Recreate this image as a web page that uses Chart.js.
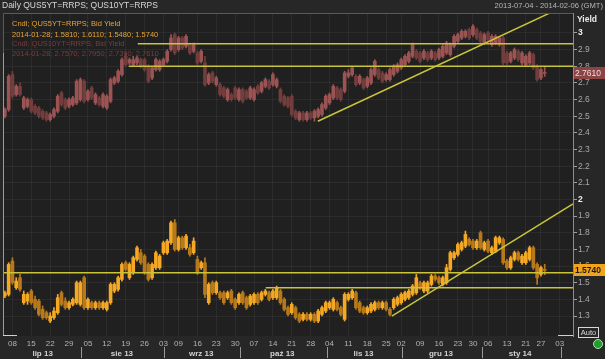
<!DOCTYPE html>
<html>
<head>
<meta charset="utf-8">
<style>
  html, body { margin: 0; padding: 0; background: #272727; }
  #wrap { width: 605px; height: 359px; }
</style>
<script src="https://cdn.jsdelivr.net/npm/chart.js@4.4.0/dist/chart.umd.min.js"></script>
</head>
<body>
<div id="wrap"><canvas id="chart" width="605" height="359"></canvas></div>
<script>
// Trading-day slots run from 2013-07-04 (slot 0) to 2014-02-06 (slot 150)
const weekTickIdx = [2, 7, 12, 17, 22, 27, 32, 37, 42, 46, 51, 56, 61, 66, 71, 76, 81, 86, 91, 96, 101, 105, 110, 115, 120, 124, 128, 133, 138, 142, 147];
const weekTickLabels = ['08', '15', '22', '29', '05', '12', '19', '26', '03', '09', '16', '23', '30', '07', '14', '21', '28', '04', '11', '18', '25', '02', '09', '16', '23', '30', '06', '13', '21', '27', '03'];
const monthStartIdx = [0, 20, 42, 62, 85, 105, 126, 147];
const monthLabels = ['lip 13', 'sie 13', 'wrz 13', 'paź 13', 'lis 13', 'gru 13', 'sty 14'];
const lastDate = '2014-01-28';

// QUS5YT=RRPS daily candles (bid yield)
const fiveOpen = [1.42,1.43,1.63,1.47,1.53,1.38,1.39,1.45,1.40,1.39, 1.34,1.32,1.27,1.29,1.32,1.44,1.39,1.35,1.37,1.38,
  1.37,1.53,1.35,1.38,1.35,1.38,1.35,1.34,1.38,1.45, 1.46,1.52,1.62,1.53,1.56,1.64,1.68,1.66,1.61,1.53,
  1.59,1.59,1.68,1.68,1.74,1.86,1.70,1.77,1.71,1.71, 1.68,1.64,1.59,1.62,1.38,1.50,1.44,1.44,1.44,1.41,
  1.45,1.40,1.38,1.44,1.41,1.37,1.38,1.43,1.40,1.43, 1.44,1.41,1.41,1.45,1.40,1.35,1.32,1.35,1.31,1.28,
  1.31,1.28,1.31,1.27,1.31,1.33,1.35,1.34,1.38,1.35, 1.28,1.40,1.41,1.44,1.38,1.35,1.32,1.33,1.34,1.38,
  1.35,1.38,1.34,1.35,1.37,1.38,1.40,1.41,1.43,1.44, 1.50,1.45,1.45,1.49,1.54,1.53,1.49,1.50,1.58,1.65,
  1.67,1.70,1.72,1.76,1.75,1.71,1.80,1.70,1.75,1.68, 1.69,1.74,1.76,1.63,1.59,1.64,1.68,1.62,1.62,1.64,
  1.71,1.61,1.55,1.581];
const fiveHigh = [1.45,1.62,1.65,1.53,1.55,1.45,1.44,1.46,1.42,1.40, 1.36,1.33,1.32,1.35,1.43,1.45,1.41,1.39,1.41,1.51,
  1.51,1.54,1.41,1.39,1.39,1.39,1.39,1.39,1.50,1.50, 1.54,1.62,1.63,1.62,1.66,1.72,1.70,1.67,1.62,1.62,
  1.69,1.67,1.75,1.76,1.87,1.88,1.78,1.78,1.79,1.73, 1.77,1.66,1.63,1.65,1.50,1.51,1.51,1.45,1.45,1.45,
  1.46,1.41,1.44,1.45,1.42,1.43,1.44,1.44,1.45,1.46, 1.45,1.46,1.48,1.46,1.41,1.36,1.38,1.36,1.32,1.32,
  1.32,1.32,1.32,1.34,1.36,1.39,1.39,1.41,1.39,1.36, 1.44,1.44,1.46,1.45,1.39,1.36,1.36,1.38,1.39,1.39,
  1.39,1.39,1.35,1.41,1.42,1.44,1.45,1.46,1.49,1.55, 1.51,1.51,1.51,1.55,1.55,1.54,1.54,1.61,1.69,1.69,
  1.74,1.75,1.81,1.77,1.76,1.76,1.81,1.75,1.76,1.72, 1.78,1.78,1.77,1.64,1.66,1.69,1.69,1.67,1.69,1.72,
  1.72,1.62,1.60,1.611];
const fiveLow = [1.41,1.42,1.49,1.46,1.45,1.37,1.37,1.37,1.34,1.30, 1.28,1.28,1.26,1.28,1.31,1.36,1.34,1.34,1.36,1.37,
  1.36,1.34,1.34,1.34,1.34,1.34,1.34,1.33,1.37,1.44, 1.45,1.51,1.57,1.52,1.55,1.63,1.61,1.55,1.51,1.52,
  1.58,1.58,1.67,1.67,1.73,1.69,1.69,1.70,1.70,1.66, 1.67,1.55,1.58,1.41,1.37,1.43,1.43,1.40,1.37,1.40,
  1.37,1.34,1.37,1.37,1.34,1.36,1.37,1.37,1.39,1.42, 1.39,1.40,1.40,1.37,1.33,1.30,1.31,1.28,1.26,1.27,
  1.27,1.27,1.26,1.26,1.30,1.32,1.34,1.33,1.33,1.30, 1.27,1.39,1.40,1.34,1.32,1.31,1.31,1.32,1.33,1.34,
  1.34,1.33,1.30,1.34,1.36,1.37,1.39,1.40,1.42,1.43, 1.46,1.44,1.44,1.48,1.51,1.49,1.48,1.49,1.57,1.64,
  1.66,1.69,1.71,1.72,1.70,1.70,1.70,1.69,1.68,1.67, 1.68,1.73,1.61,1.58,1.58,1.63,1.63,1.61,1.61,1.63,
  1.58,1.49,1.54,1.548];
const fiveClose = [1.44,1.61,1.50,1.51,1.46,1.43,1.43,1.38,1.35,1.31, 1.29,1.29,1.30,1.33,1.41,1.37,1.35,1.38,1.40,1.50,
  1.50,1.35,1.40,1.35,1.38,1.35,1.38,1.38,1.49,1.49, 1.53,1.61,1.58,1.61,1.65,1.71,1.62,1.56,1.52,1.61,
  1.68,1.66,1.74,1.75,1.86,1.70,1.77,1.71,1.78,1.67, 1.75,1.56,1.62,1.43,1.49,1.44,1.50,1.41,1.38,1.44,
  1.38,1.35,1.43,1.38,1.35,1.42,1.43,1.38,1.44,1.45, 1.40,1.45,1.47,1.38,1.34,1.31,1.37,1.29,1.27,1.31,
  1.28,1.31,1.27,1.33,1.35,1.38,1.38,1.40,1.34,1.31, 1.43,1.43,1.45,1.35,1.33,1.32,1.35,1.37,1.38,1.35,
  1.38,1.34,1.31,1.40,1.41,1.43,1.44,1.45,1.48,1.53, 1.47,1.50,1.50,1.54,1.52,1.50,1.53,1.59,1.68,1.68,
  1.73,1.74,1.79,1.73,1.71,1.75,1.71,1.74,1.69,1.71, 1.77,1.77,1.62,1.59,1.65,1.68,1.64,1.66,1.68,1.71,
  1.59,1.53,1.59,1.574];

// QUS10YT=RRPS daily candles (bid yield)
const tenOpen = [2.50,2.54,2.75,2.63,2.68,2.55,2.56,2.60,2.56,2.55, 2.53,2.52,2.48,2.50,2.53,2.64,2.60,2.56,2.57,2.58,
  2.60,2.71,2.60,2.67,2.58,2.61,2.56,2.55,2.59,2.70, 2.71,2.75,2.86,2.82,2.81,2.82,2.84,2.84,2.80,2.73,
  2.78,2.78,2.81,2.83,2.90,2.99,2.90,2.97,2.92,2.93, 2.89,2.88,2.83,2.82,2.70,2.76,2.69,2.69,2.67,2.60,
  2.63,2.67,2.60,2.66,2.65,2.61,2.60,2.68,2.65,2.68, 2.71,2.69,2.68,2.66,2.62,2.61,2.62,2.53,2.48,2.52,
  2.48,2.52,2.49,2.50,2.51,2.55,2.58,2.61,2.67,2.66, 2.65,2.74,2.75,2.74,2.70,2.72,2.68,2.70,2.75,2.78,
  2.76,2.72,2.72,2.75,2.77,2.79,2.81,2.83,2.86,2.89, 2.88,2.85,2.88,2.85,2.88,2.85,2.86,2.88,2.87,2.92,
  2.95,2.97,2.98,3.02,2.99,3.02,3.00,2.94,3.00,2.93, 2.94,2.93,2.97,2.88,2.83,2.85,2.89,2.82,2.81,2.82,
  2.87,2.80,2.73,2.757];
const tenHigh = [2.55,2.75,2.77,2.69,2.70,2.62,2.61,2.61,2.57,2.56, 2.54,2.53,2.52,2.55,2.63,2.65,2.61,2.61,2.62,2.72,
  2.73,2.72,2.66,2.68,2.64,2.62,2.64,2.63,2.73,2.74, 2.78,2.85,2.88,2.85,2.86,2.86,2.85,2.85,2.81,2.80,
  2.85,2.84,2.85,2.90,2.99,3.00,2.98,2.98,2.99,2.94, 2.94,2.89,2.90,2.86,2.76,2.77,2.74,2.70,2.68,2.67,
  2.64,2.68,2.67,2.67,2.66,2.68,2.67,2.69,2.71,2.73, 2.72,2.76,2.73,2.67,2.63,2.62,2.63,2.54,2.53,2.53,
  2.53,2.53,2.54,2.55,2.58,2.63,2.64,2.69,2.68,2.67, 2.77,2.78,2.80,2.75,2.75,2.73,2.74,2.79,2.84,2.79,
  2.77,2.76,2.79,2.81,2.82,2.85,2.87,2.89,2.94,2.90, 2.89,2.90,2.89,2.90,2.89,2.91,2.93,2.95,2.94,2.99,
  3.00,3.02,3.02,3.03,3.05,3.03,3.01,3.00,3.01,2.99, 2.99,2.98,2.98,2.89,2.89,2.91,2.90,2.89,2.87,2.89,
  2.88,2.81,2.79,2.795];
const tenLow = [2.49,2.53,2.61,2.62,2.62,2.54,2.55,2.52,2.51,2.49, 2.48,2.47,2.47,2.49,2.52,2.56,2.54,2.55,2.56,2.57,
  2.59,2.58,2.59,2.60,2.57,2.56,2.55,2.54,2.58,2.69, 2.70,2.74,2.80,2.81,2.80,2.81,2.79,2.77,2.70,2.72,
  2.77,2.77,2.80,2.82,2.89,2.87,2.89,2.90,2.91,2.87, 2.88,2.81,2.82,2.68,2.69,2.70,2.68,2.62,2.61,2.59,
  2.59,2.60,2.59,2.58,2.60,2.60,2.59,2.63,2.64,2.67, 2.66,2.68,2.67,2.58,2.56,2.55,2.50,2.48,2.47,2.47,
  2.47,2.48,2.47,2.49,2.50,2.54,2.57,2.60,2.60,2.59, 2.64,2.73,2.74,2.68,2.69,2.66,2.67,2.69,2.74,2.72,
  2.70,2.71,2.71,2.74,2.76,2.78,2.80,2.82,2.85,2.84, 2.82,2.84,2.83,2.84,2.83,2.84,2.85,2.87,2.86,2.91,
  2.94,2.96,2.97,2.96,2.98,2.96,2.94,2.93,2.95,2.92, 2.93,2.92,2.81,2.81,2.82,2.84,2.83,2.81,2.80,2.81,
  2.78,2.71,2.72,2.739];
const tenClose = [2.54,2.74,2.62,2.68,2.63,2.61,2.60,2.53,2.52,2.50, 2.49,2.48,2.51,2.54,2.62,2.57,2.55,2.60,2.61,2.71,
  2.72,2.59,2.65,2.61,2.63,2.57,2.63,2.62,2.72,2.73, 2.77,2.84,2.81,2.84,2.84,2.85,2.80,2.78,2.71,2.79,
  2.84,2.83,2.84,2.89,2.97,2.88,2.97,2.91,2.98,2.88, 2.93,2.82,2.89,2.69,2.75,2.71,2.73,2.63,2.62,2.66,
  2.60,2.61,2.66,2.59,2.61,2.67,2.66,2.64,2.70,2.72, 2.67,2.75,2.72,2.59,2.57,2.56,2.51,2.49,2.52,2.48,
  2.52,2.49,2.53,2.54,2.57,2.62,2.63,2.68,2.61,2.60, 2.76,2.76,2.79,2.69,2.74,2.67,2.73,2.78,2.83,2.73,
  2.71,2.75,2.78,2.80,2.81,2.84,2.86,2.88,2.93,2.85, 2.83,2.89,2.84,2.89,2.84,2.90,2.92,2.94,2.93,2.98,
  2.99,3.01,3.01,2.97,3.04,2.97,2.95,2.99,2.96,2.98, 2.98,2.97,2.82,2.82,2.88,2.90,2.84,2.88,2.86,2.88,
  2.79,2.72,2.78,2.761];

// Drawn trend lines: [slot, yield] end points
const trendLines = [
  [[35.2, 2.935], [150.5, 2.935]],
  [[32.8, 2.80], [150.5, 2.80]],
  [[82.9, 2.47], [150.5, 3.185]],
  [[-0.5, 1.56], [150.5, 1.56]],
  [[69.1, 1.47], [150.5, 1.47]],
  [[102.5, 1.30], [150.5, 1.974]]
];

const FONT = "'Liberation Sans', Arial, sans-serif";
Chart.defaults.font.family = FONT;

function isWhole(ctx) {
  if (!ctx || !ctx.tick) return false;
  return Math.abs(ctx.tick.value - Math.round(ctx.tick.value)) < 0.001;
}

function candleSets(open, high, low, close, upColor, downColor, label) {
  const pick = (ctx) => {
    const i = ctx && ctx.dataIndex;
    if (i === undefined) return upColor;
    return close[i] >= open[i] ? upColor : downColor;
  };
  return [
    {
      type: 'bar', label: label + ' wick', order: 3, grouped: false,
      data: open.map((o, i) => ({ x: i, y: [low[i], high[i]] })),
      backgroundColor: pick, barThickness: 1
    },
    {
      type: 'bar', label: label, order: 2, grouped: false,
      data: open.map((o, i) => ({ x: i, y: [o, close[i]] })),
      backgroundColor: pick, barThickness: 3, minBarLength: 1
    }
  ];
}

const lineSets = trendLines.map((seg, k) => ({
  type: 'line', label: 'trend ' + k, order: 0,
  data: seg.map(p => ({ x: p[0], y: p[1] })),
  borderColor: '#c9c43a', borderWidth: 1.5, pointRadius: 0, fill: false
}));

const last = fiveClose.length - 1;
const fmt4 = (a) => a[last].toFixed(4);

// Text, frame, price tags drawn on top of the chart
const overlay = {
  id: 'overlay',
  beforeDraw(chart) {
    const c = chart.ctx, a = chart.chartArea;
    c.save();
    c.fillStyle = '#272727';
    c.fillRect(0, 0, chart.width, chart.height);
    c.fillStyle = '#202020';
    c.fillRect(a.left, a.top, a.right - a.left, a.bottom - a.top);
    c.restore();
  },
  afterDraw(chart) {
    const c = chart.ctx, a = chart.chartArea;
    const y = chart.scales.y, xm = chart.scales.xm;
    c.save();
    // frame
    c.strokeStyle = '#5a5a5a';
    c.lineWidth = 1;
    c.beginPath();
    c.moveTo(a.left + 0.5, a.bottom);
    c.lineTo(a.left + 0.5, a.top + 0.5);
    c.lineTo(a.right, a.top + 0.5);
    c.stroke();
    c.strokeStyle = '#9a9a9a';
    c.beginPath();
    c.moveTo(a.left + 0.5, a.top + 40);
    c.lineTo(a.left + 0.5, a.bottom);
    c.stroke();
    c.strokeStyle = '#d0d0d0';
    c.beginPath();
    c.moveTo(a.left, a.bottom - 0.5);
    c.lineTo(a.left + 14, a.bottom - 0.5);
    c.moveTo(a.right - 15, a.bottom - 0.5);
    c.lineTo(a.right, a.bottom - 0.5);
    c.stroke();

    // header
    c.textBaseline = 'middle';
    c.font = '8.5px ' + FONT;
    c.fillStyle = '#d6d6d6';
    c.textAlign = 'left';
    c.fillText('Daily QUS5YT=RRPS; QUS10YT=RRPS', 2, 6);
    c.font = '7.6px ' + FONT;
    c.fillStyle = '#b8b8b8';
    c.textAlign = 'right';
    c.fillText('2013-07-04 - 2014-02-06 (GMT)', 603, 6);

    // legend
    c.textAlign = 'left';
    c.font = '7.5px ' + FONT;
    c.fillStyle = '#e8a232';
    c.fillText('Cndl; QUS5YT=RRPS; Bid Yield', 12, 24);
    c.fillText(lastDate + '; ' + [fiveOpen, fiveHigh, fiveLow, fiveClose].map(fmt4).join('; '), 12, 34.5);
    c.fillStyle = '#7c3c3c';
    c.fillText('Cndl; QUS10YT=RRPS; Bid Yield', 12, 44);
    c.fillText(lastDate + '; ' + [tenOpen, tenHigh, tenLow, tenClose].map(fmt4).join('; '), 12, 53.5);

    // axis title
    c.font = 'bold 8.5px ' + FONT;
    c.fillStyle = '#ececec';
    c.fillText('Yield', 577, 20);

    // last value tags
    const tag = (val, bg, fg, bold) => {
      const py = Math.round(y.getPixelForValue(val));
      c.fillStyle = bg;
      c.fillRect(a.right + 1, py - 6, chart.width - a.right - 1, 12);
      c.fillStyle = fg;
      c.font = (bold ? 'bold ' : '') + '8.5px ' + FONT;
      c.fillText(val.toFixed(4), a.right + 2, py + 0.5);
    };
    tag(tenClose[last], '#8a4444', '#f3dada', false);
    tag(fiveClose[last], '#f2a31c', '#1a1a1a', true);

    // month separators
    c.strokeStyle = '#9a9a9a';
    monthStartIdx.slice(1).forEach(v => {
      const px = Math.round(xm.getPixelForValue(v)) + 1.5;
      c.beginPath();
      c.moveTo(px, 347);
      c.lineTo(px, 358);
      c.stroke();
    });

    // Auto box and status light
    c.strokeStyle = '#d8d8d8';
    c.strokeRect(578.5, 327.5, 20, 10);
    c.fillStyle = '#d8d8d8';
    c.font = '7.5px ' + FONT;
    c.textAlign = 'center';
    c.fillText('Auto', 588.5, 333);
    c.beginPath();
    c.arc(598, 344, 4.5, 0, Math.PI * 2);
    c.fillStyle = '#1f9e2a';
    c.fill();
    c.strokeStyle = '#b9d9b9';
    c.stroke();
    c.restore();
  }
};

const monthCenters = monthLabels.map((m, i) => (monthStartIdx[i] + monthStartIdx[i + 1]) / 2);

new Chart(document.getElementById('chart'), {
  type: 'bar',
  data: {
    datasets: [
      ...lineSets,
      ...candleSets(tenOpen, tenHigh, tenLow, tenClose, '#9c5353', '#723d3d', 'QUS10YT'),
      ...candleSets(fiveOpen, fiveHigh, fiveLow, fiveClose, '#f5a823', '#b8791a', 'QUS5YT')
    ]
  },
  options: {
    responsive: false,
    devicePixelRatio: 1,
    animation: false,
    layout: { padding: { left: 3, top: 13, right: 0, bottom: 0 } },
    plugins: { legend: { display: false }, tooltip: { enabled: false } },
    scales: {
      x: {
        type: 'linear', min: -0.5, max: 150.5, offset: false, position: 'bottom', weight: 0,
        afterBuildTicks: (axis) => { axis.ticks = weekTickIdx.map(v => ({ value: v })); },
        afterFit: (axis) => { axis.height = 12; },
        ticks: {
          autoSkip: false, maxRotation: 0, padding: 3, color: '#b2b2b2',
          font: { size: 8 },
          callback: (v, i) => weekTickLabels[i]
        },
        grid: { color: 'rgba(255,255,255,0.05)', drawTicks: false, offset: false },
        border: { display: false }
      },
      xm: {
        type: 'linear', min: -0.5, max: 150.5, offset: false, position: 'bottom', weight: 1,
        afterBuildTicks: (axis) => { axis.ticks = monthCenters.map(v => ({ value: v })); },
        afterFit: (axis) => { axis.height = 11; },
        ticks: {
          autoSkip: false, maxRotation: 0, padding: 1, color: '#d2d2d2',
          font: { size: 8, weight: 'bold' },
          callback: (v, i) => monthLabels[i]
        },
        grid: { display: false, drawTicks: false },
        border: { display: false }
      },
      y: {
        position: 'right', min: 1.18, max: 3.12,
        afterBuildTicks: (axis) => { axis.ticks = axis.ticks.filter(t => t.value > 1.29 && t.value < 3.01); },
        afterFit: (axis) => { axis.width = 32; },
        ticks: {
          stepSize: 0.1, includeBounds: false, padding: 1,
          color: (ctx) => isWhole(ctx) ? '#f0f0f0' : '#a8a8a8',
          font: (ctx) => ({ size: 8.5, weight: isWhole(ctx) ? 'bold' : 'normal' }),
          callback: (v) => String(Math.round(v * 10) / 10)
        },
        grid: { color: 'rgba(255,255,255,0.05)', tickColor: '#a0a0a0', tickLength: 4 },
        border: { color: '#8c8c8c' }
      }
    }
  },
  plugins: [overlay]
});
</script>
</body>
</html>
